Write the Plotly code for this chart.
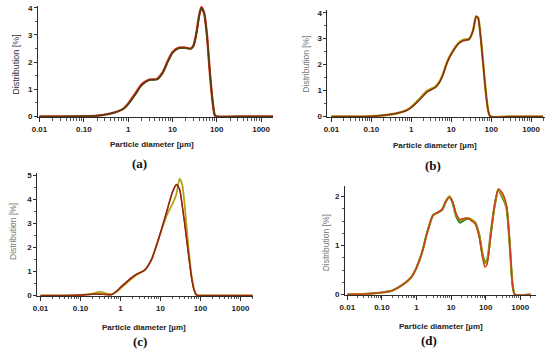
import plotly.graph_objects as go

# ---------------- data ----------------
xa = [0.01, 0.03, 0.1, 0.2, 0.35, 0.5, 0.8, 1.0, 1.5, 2, 3, 4.5, 6, 8, 10, 14, 20, 26, 30, 35, 40, 45, 52, 60, 70, 80, 90, 100, 300, 2000]
ya_red = [0, 0, 0.01, 0.03, 0.09, 0.15, 0.3, 0.47, 0.88, 1.17, 1.36, 1.38, 1.62, 2.07, 2.36, 2.53, 2.53, 2.5, 2.62, 3.1, 3.72, 4.02, 3.8, 3.0, 1.6, 0.6, 0.05, 0, 0, 0]
ya_olive = [0, 0, 0.01, 0.03, 0.09, 0.15, 0.29, 0.45, 0.84, 1.14, 1.34, 1.36, 1.6, 2.04, 2.34, 2.51, 2.51, 2.49, 2.6, 3.08, 3.7, 3.98, 3.78, 3.0, 1.6, 0.6, 0.05, 0, 0, 0]
ya_brown = [0, 0, 0.01, 0.03, 0.09, 0.15, 0.3, 0.45, 0.85, 1.15, 1.35, 1.37, 1.6, 2.05, 2.35, 2.52, 2.52, 2.5, 2.6, 3.1, 3.7, 4.0, 3.8, 3.0, 1.6, 0.6, 0.05, 0, 0, 0]

xb = [0.01, 0.03, 0.1, 0.3, 0.6, 0.8, 1.0, 1.5, 2.5, 4, 5, 6, 8, 10, 15, 20, 28, 35, 42, 47, 55, 65, 75, 85, 95, 300, 2000]
yb_red = [0, 0, 0.01, 0.08, 0.18, 0.25, 0.35, 0.6, 0.95, 1.12, 1.3, 1.55, 2.1, 2.4, 2.8, 2.92, 2.96, 3.3, 3.86, 3.8, 3.0, 1.8, 0.8, 0.2, 0, 0, 0]
yb_olive = [0, 0, 0.01, 0.08, 0.18, 0.26, 0.37, 0.63, 0.99, 1.15, 1.32, 1.57, 2.12, 2.42, 2.82, 2.95, 3.0, 3.3, 3.85, 3.82, 3.02, 1.82, 0.82, 0.2, 0, 0, 0]
yb_brown = [0, 0, 0.01, 0.08, 0.18, 0.25, 0.35, 0.6, 0.95, 1.12, 1.3, 1.55, 2.1, 2.4, 2.8, 2.93, 2.98, 3.3, 3.85, 3.8, 3.0, 1.8, 0.8, 0.2, 0, 0, 0]

xc = [0.01, 0.03, 0.1, 0.2, 0.3, 0.45, 0.6, 0.8, 1, 1.5, 2.5, 4, 6, 8, 10, 15, 20, 25, 30, 35, 40, 50, 60, 70, 80, 90, 300, 2000]
yc_olive = [0, 0, 0.02, 0.08, 0.15, 0.08, 0.05, 0.15, 0.3, 0.55, 0.85, 1.05, 1.5, 2.1, 2.6, 3.4, 3.8, 4.2, 4.85, 4.6, 3.8, 2.0, 0.8, 0.2, 0.0, 0, 0, 0]
yc_red = [0, 0, 0.02, 0.05, 0.06, 0.04, 0.04, 0.18, 0.33, 0.6, 0.88, 1.05, 1.5, 2.1, 2.6, 3.6, 4.3, 4.6, 4.42, 3.75, 3.05, 1.75, 0.75, 0.22, 0.03, 0, 0, 0]
yc_brown = [0, 0, 0.02, 0.05, 0.05, 0.03, 0.03, 0.18, 0.34, 0.6, 0.88, 1.05, 1.5, 2.1, 2.6, 3.6, 4.3, 4.6, 4.4, 3.7, 3.0, 1.7, 0.7, 0.2, 0.02, 0, 0, 0]

xd = [0.01, 0.05, 0.1, 0.2, 0.4, 0.7, 1, 1.5, 2, 3, 4, 5.5, 7, 9, 11, 14, 18, 25, 32, 40, 50, 65, 80, 95, 110, 140, 180, 230, 300, 400, 500, 600, 700, 2000]
yd_green = [0, 0.02, 0.04, 0.08, 0.2, 0.35, 0.55, 0.9, 1.25, 1.62, 1.67, 1.73, 1.9, 2.0, 1.88, 1.6, 1.47, 1.53, 1.55, 1.52, 1.47, 1.22, 0.85, 0.66, 0.7, 1.25, 1.8, 2.12, 2.0, 1.78, 1.0, 0.2, 0.0, 0]
yd_olive = [0, 0.02, 0.04, 0.08, 0.2, 0.35, 0.55, 0.9, 1.25, 1.62, 1.67, 1.73, 1.9, 2.01, 1.9, 1.64, 1.52, 1.55, 1.56, 1.53, 1.47, 1.22, 0.82, 0.63, 0.68, 1.22, 1.8, 2.13, 2.02, 1.8, 1.0, 0.2, 0.0, 0]
yd_red = [0, 0.02, 0.04, 0.08, 0.2, 0.35, 0.55, 0.9, 1.25, 1.62, 1.67, 1.73, 1.9, 1.98, 1.9, 1.65, 1.53, 1.56, 1.55, 1.5, 1.44, 1.18, 0.78, 0.56, 0.62, 1.2, 1.8, 2.16, 2.08, 1.82, 1.02, 0.2, 0.0, 0]

x_tickvals = [0.01, 0.1, 1, 10, 100, 1000]
x_ticktext = ["0.01", "0.10", "1", "10", "100", "1000"]

# ---------------- styling ----------------
RED = "#e2231a"
OLIVE = "#b0a418"
GREEN = "#3d8a1c"
BROWN = "#7a3412"
AXC = "#2b2b2b"
TICKFONT = dict(family="Liberation Sans, Arial", size=8, color="#222", weight="bold")

minor_vals = [k * 10.0 ** e for e in range(-2, 4) for k in range(2, 10)]

fig = go.Figure()

panels = [
    (xa, [(ya_red, RED, 2.4), (ya_olive, "#4a5a14", 1.6), (ya_brown, "#5b3a10", 1.2)],
     [0.0591, 0.4909], [-2.03, 3.27], [0.6713, 0.9888], [-0.02, 4.07], [0, 1, 2, 3, 4], 0.5),
    (xb, [(yb_olive, OLIVE, 2.4), (yb_red, "#c0501a", 1.6), (yb_brown, BROWN, 1.2)],
     [0.5909, 0.9909], [-2.1, 3.35], [0.6713, 0.9775], [-0.02, 4.11], [0, 1, 2, 3, 4], 0.5),
    (xc, [(yc_olive, OLIVE, 1.8), (yc_red, "#c43018", 1.6), (yc_brown, "#8a2a10", 1.2)],
     [0.0576, 0.4545], [-2.08, 3.32], [0.1601, 0.5112], [-0.02, 5.08], [0, 1, 2, 3, 4, 5], 0.5),
    (xd, [(yd_green, GREEN, 2.2), (yd_olive, OLIVE, 1.8), (yd_red, "#c8401a", 1.5)],
     [0.6231, 0.9745], [-2.07, 3.46], [0.1629, 0.4747], [-0.01, 2.22], [0, 1, 2], 0.25),
]

layout_axes = {}
for i, (xs, series, xdom, xr, ydom, yr, ytv, ymin) in enumerate(panels, start=1):
    xa_name = "x" if i == 1 else f"x{i}"
    ya_name = "y" if i == 1 else f"y{i}"
    for ys, col, w in series:
        fig.add_trace(go.Scatter(
            x=xs, y=ys, mode="lines", xaxis=xa_name, yaxis=ya_name,
            line=dict(color=col, width=w, shape="spline", smoothing=0.6),
            showlegend=False, hoverinfo="skip"))
    xkey = "xaxis" if i == 1 else f"xaxis{i}"
    ykey = "yaxis" if i == 1 else f"yaxis{i}"
    layout_axes[xkey] = dict(
        type="log", domain=xdom, range=xr, anchor=ya_name,
        showline=True, linecolor=AXC, linewidth=1, showgrid=False, zeroline=False,
        ticks="outside", ticklen=4, tickwidth=1, tickcolor=AXC,
        tickvals=x_tickvals, ticktext=x_ticktext, tickfont=TICKFONT,
        minor=dict(ticks="outside", ticklen=2.5, tickwidth=0.8, tickcolor=AXC,
                   tickvals=minor_vals, showgrid=False),
    )
    layout_axes[ykey] = dict(
        domain=ydom, range=yr, anchor=xa_name,
        showline=True, linecolor=AXC, linewidth=1, showgrid=False, zeroline=False,
        ticks="outside", ticklen=3, tickwidth=1, tickcolor=AXC,
        tickvals=ytv, tickfont=TICKFONT,
        minor=dict(ticks="outside", ticklen=2, tickwidth=0.8, tickcolor=AXC,
                   dtick=ymin, showgrid=False),
    )

fig.update_layout(
    width=550, height=356,
    margin=dict(l=0, r=0, t=0, b=0),
    paper_bgcolor="white", plot_bgcolor="white",
    **layout_axes,
)

W, H = 550.0, 356.0


def px(x, y):
    return x / W, 1 - y / H


ann = []
for (x, y, col, size) in [(10, 63, "#333", 9), (303, 63, "#777", 8.5), (7, 233, "#777", 8.5), (323, 245, "#777", 8.5)]:
    ax_, ay_ = px(x, y)
    ann.append(dict(x=ax_, y=ay_, xref="paper", yref="paper", text="Distribution [%]",
                    textangle=-90, showarrow=False, xanchor="center", yanchor="middle",
                    font=dict(family="Liberation Sans, Arial", size=size, color=col)))
for (x, y) in [(148, 145), (434, 146), (140, 331), (440, 330)]:
    ax_, ay_ = px(x, y)
    ann.append(dict(x=ax_, y=ay_, xref="paper", yref="paper", text="Particle diameter [µm]",
                    showarrow=False, xanchor="center", yanchor="middle",
                    font=dict(family="Liberation Sans, Arial", size=8, color="#222", weight="bold")))
for (x, y, t) in [(135, 164, "(a)"), (432, 166, "(b)"), (135, 345, "(c)"), (428, 344, "(d)")]:
    ax_, ay_ = px(x, y)
    ann.append(dict(x=ax_, y=ay_, xref="paper", yref="paper", text=t,
                    showarrow=False, xanchor="center", yanchor="middle",
                    font=dict(family="Liberation Serif, Times New Roman, serif", size=13, color="#111", weight="bold")))
fig.update_layout(annotations=ann)

fig.write_html("out.html", config={"displayModeBar": False, "staticPlot": True},
               post_script="document.body.style.margin='0';document.body.style.padding='0';")
